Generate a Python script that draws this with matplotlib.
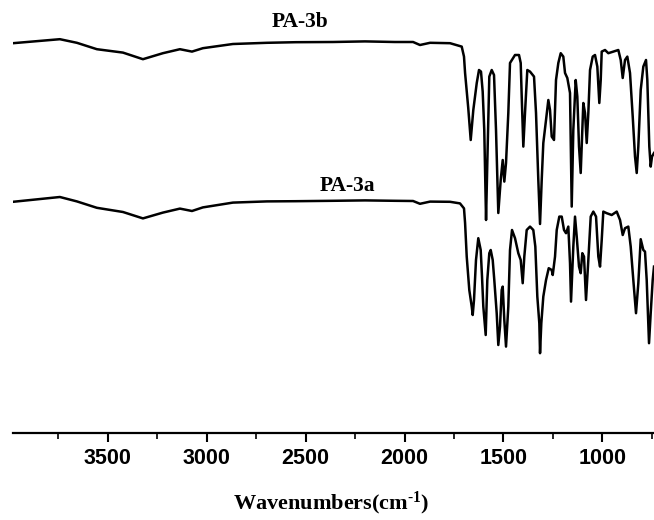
import matplotlib
matplotlib.use("Agg")
import numpy as np
import matplotlib.pyplot as plt
from matplotlib.ticker import MultipleLocator

plt.rcParams['mathtext.fontset'] = 'custom'
plt.rcParams['mathtext.rm'] = 'Liberation Serif:bold'
plt.rcParams['mathtext.it'] = 'Liberation Serif:bold'
plt.rcParams['mathtext.bf'] = 'Liberation Serif:bold'

# FTIR spectra (wavenumber in cm-1, relative transmittance)
wn_3b = [3980, 3743, 3657, 3556, 3424, 3323, 3222, 3136, 3075, 3020, 2868, 2696,
         2550, 2362, 2200, 2050, 1957, 1922, 1871, 1770, 1711, 1699.5, 1694, 1678,
         1665.5, 1652.4, 1635, 1623.6, 1613.5, 1605, 1597, 1588, 1581.6, 1571.5,
         1559.3, 1547.7, 1537.6, 1526, 1513.8, 1503.7, 1495.6, 1487, 1475.4, 1466.8,
         1441.5, 1421.3, 1412.7, 1407.6, 1399.5, 1391, 1379.3, 1365.6, 1345.4,
         1335.3, 1323.7, 1315, 1306.5, 1298.4, 1284.7, 1273, 1264.5, 1255.9, 1244.3,
         1234.2, 1222.5, 1210.4, 1197.3, 1188.6, 1177, 1163.4, 1154.8, 1146.7,
         1134.6, 1126.5, 1117.9, 1109.3, 1101.2, 1096.1, 1087.5, 1078.9, 1070.8,
         1062.2, 1048.6, 1037, 1025.3, 1015.2, 1008.1, 1003.1, 986.3, 969.7, 944.4,
         919.1, 907, 896.9, 885.3, 873.6, 860, 846.3, 834.7, 826.1, 818, 805.9,
         792.7, 779.1, 772.5, 762.4, 755.4, 748.8, 738.7]
t_3b = [97.4, 99.4, 97.6, 94.4, 92.7, 89.4, 92.4, 94.4, 93.2, 94.9, 97.0, 97.6,
        97.9, 98.0, 98.3, 98.0, 98.0, 96.5, 97.6, 97.4, 95.7, 90.7, 82.5, 65.0,
        49.0, 64.0, 77.5, 84.0, 83.2, 73.2, 54.0, 9.0, 37.5, 80.7,
        84.0, 81.5, 54.0, 12.5, 29.0, 39.0, 28.2, 37.5, 62.5, 87.5,
        91.5, 91.5, 87.5, 70.7, 45.7, 62.5, 84.0, 83.2, 80.7,
        62.5, 29.0, 7.0, 29.0, 47.5, 59.0, 69.0, 64.0, 50.7, 49.0,
        79.0, 87.5, 92.4, 90.7, 82.5, 80.0, 72.5, 15.7, 54.0,
        79.0, 70.7, 45.7, 32.5, 54.0, 67.5, 62.5, 47.5, 62.5,
        84.0, 90.7, 91.5, 85.7, 67.5, 79.0, 93.2, 94.0, 92.4, 93.2,
        94.0, 89.0, 80.0, 89.0, 90.7, 82.5, 60.7, 40.7, 32.5, 45.7, 74.0,
        85.7, 89.0, 79.0, 45.7, 35.7, 40.7, 42.5]

wn_3a = [3980, 3743, 3657, 3556, 3424, 3323, 3222, 3136, 3075, 3020, 2868, 2696,
         2550, 2362, 2200, 2050, 1957, 1922, 1871, 1770, 1719.7, 1699.5, 1694,
         1685.7, 1672.7, 1660.4, 1655.4, 1648.9, 1638.8, 1627.2, 1615, 1608.4,
         1601.8, 1589.7, 1581.6, 1571.5, 1564.4, 1554.3, 1546.3, 1534.1, 1526,
         1517.4, 1508.9, 1503.7, 1495.6, 1487, 1475.4, 1466.8, 1456.7, 1441.5,
         1424.8, 1412.7, 1402.6, 1394.5, 1382.4, 1365.6, 1349, 1338.8, 1328.7,
         1318.6, 1315, 1308.5, 1298.4, 1284.7, 1271, 1255.9, 1250.8, 1239.2,
         1230.6, 1217.5, 1205.3, 1193.7, 1183.6, 1172, 1163.4, 1158.3, 1146.7,
         1138.1, 1129.5, 1117.9, 1109.3, 1101.2, 1092.6, 1082.5, 1070.8, 1058.7,
         1045.5, 1031.8, 1020.2, 1011.6, 1003.1, 995, 977.8, 952.5, 927.2, 910.4,
         896.9, 885.3, 868.6, 856.5, 843.3, 829.7, 818, 805.9, 792.7, 784.2,
         775.6, 763.9, 755.4, 745.3, 738.7]
t_3a = [97.6, 100.0, 97.8, 94.6, 92.5, 89.3, 92.2, 94.2, 93.0, 94.8, 97.2, 97.8,
        97.9, 98.1, 98.3, 98.1, 98.0, 96.6, 97.7, 97.6, 96.8, 94.3, 87.0,
        70.2, 53.5, 45.2, 41.0, 48.5, 68.5, 79.4, 73.5, 60.2,
        45.2, 31.0, 58.5, 71.9, 73.5, 68.5, 58.5, 41.9, 26.0,
        35.2, 53.5, 55.2, 38.5, 25.2, 45.2, 73.5, 83.5, 79.4,
        71.9, 68.5, 56.9, 70.2, 83.5, 85.2, 83.5, 75.2, 50.2,
        36.9, 21.9, 36.9, 50.2, 58.5, 64.4, 63.5, 61.0, 70.2,
        83.5, 90.2, 90.2, 83.5, 81.9, 85.2, 66.9, 47.7, 75.2,
        90.2, 80.2, 65.2, 61.9, 71.9, 70.2, 48.5, 68.5, 90.2,
        92.7, 90.2, 70.2, 65.2, 78.5, 92.7, 91.9, 91.0, 92.7, 88.5,
        81.0, 84.4, 85.2, 75.2, 58.5, 41.9, 56.9, 78.9, 73.5, 72.7,
        58.5, 26.9, 41.9, 58.5, 65.2]

labels = ['PA-3b', 'PA-3a']
offsets = [97.5, 18.0]

fig = plt.figure(figsize=(6.54, 5.2), dpi=100)
ax = fig.add_axes([13 / 654, 1 - 433 / 520, 1 - 13 / 654, 433 / 520])

ax.plot(wn_3b, np.array(t_3b) + offsets[0], color='black', lw=1.8)
ax.plot(wn_3a, np.array(t_3a) + offsets[1], color='black', lw=1.8)

ax.text(2530, 205.5, labels[0], ha='center', va='center', fontsize=15.5,
        fontweight='bold', family='Liberation Serif')
ax.text(2290, 123.5, labels[1], ha='center', va='center', fontsize=15.5,
        fontweight='bold', family='Liberation Serif')

ax.set_xlim(3980, 738.7)
ax.set_ylim(0, 216.5)
ax.set_yticks([])
for s in ['top', 'left', 'right']:
    ax.spines[s].set_visible(False)
ax.spines['bottom'].set_linewidth(1.6)

ax.xaxis.set_major_locator(MultipleLocator(500))
ax.xaxis.set_minor_locator(MultipleLocator(250))
ax.tick_params(axis='x', which='major', direction='out', length=6.5, width=1.5, pad=4,
               labelsize=15.5)
ax.tick_params(axis='x', which='minor', direction='out', length=4, width=1.2)
for lab in ax.get_xticklabels():
    lab.set_fontweight('bold')
    lab.set_family('Liberation Sans')

fig.text(331 / 654, 1 - 503 / 520, 'Wavenumbers(cm$^{\\text{-}1}$)', ha='center',
         va='center', fontsize=16, fontweight='bold', family='Liberation Serif')

fig.savefig('out.png', dpi=100)
